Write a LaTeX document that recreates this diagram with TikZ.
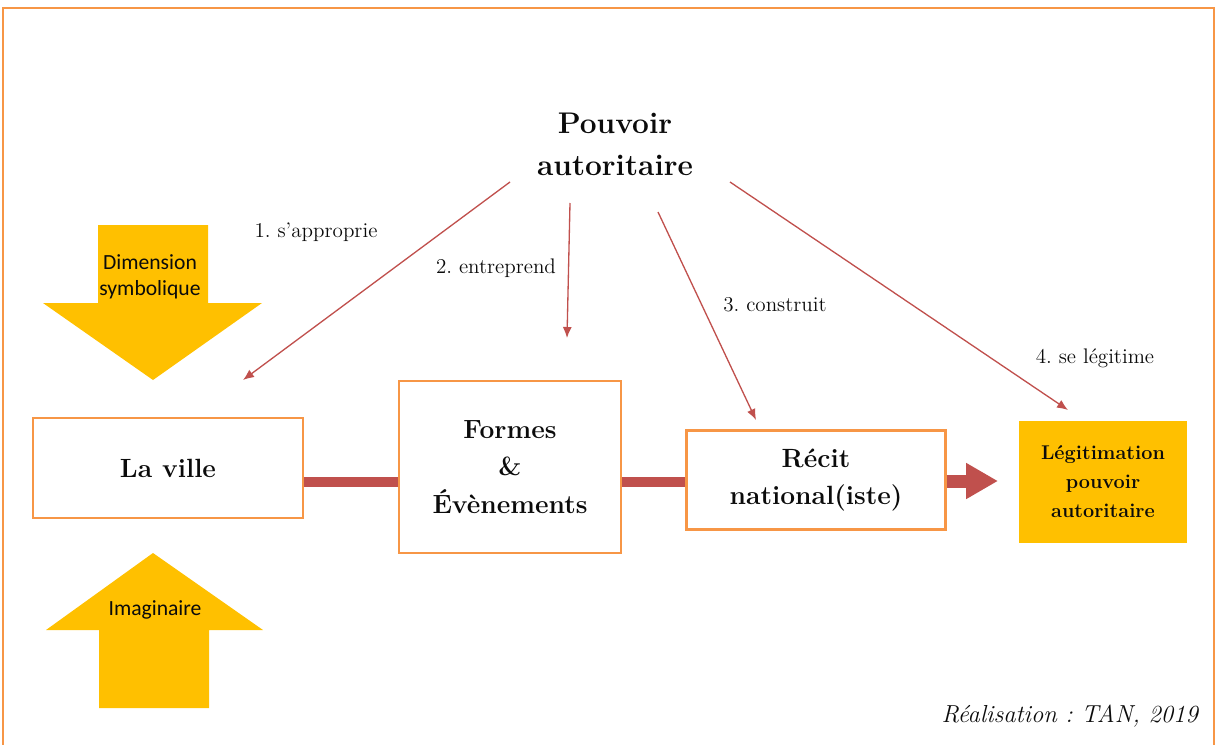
\documentclass[tikz,border=0pt]{standalone}
\usepackage{fontspec}
\newfontfamily\calibri{Carlito}
\usetikzlibrary{arrows.meta,positioning,calc}
\definecolor{frameorange}{HTML}{F79646}
\definecolor{gold}{HTML}{FFC000}
\definecolor{brick}{HTML}{C0504D}
\definecolor{ink}{HTML}{0B0B0B}
\frenchspacing
\tikzset{
  every node/.style={text=ink},
  box/.style={draw=frameorange, line width=1.3pt, fill=white, align=center,
    font=\bfseries\fontsize{15}{21.5}\selectfont},
  goal/.style={fill=gold, align=center, font=\bfseries\fontsize{11.3}{16.5}\selectfont},
  link/.style={-{Latex[length=0.22cm,width=0.18cm]}, draw=brick, line width=0.75pt},
  bar/.style={draw=brick, line width=0.2cm},
  verb/.style={font=\fontsize{12}{14}\selectfont},
  force/.style={fill=gold},
  forcetext/.style={font=\calibri\fontsize{12.3}{14.5}\selectfont, align=center},
}
\begin{document}
\begin{tikzpicture}[x=0.02cm, y=-0.02cm]
  \useasboundingbox (0,0) rectangle (1217,744);
  \draw[frameorange, line width=1.5pt] (3,760) -- (3,8) -- (1214,8) -- (1214,760);

  % power at the top
  \node[align=center, font=\bfseries\fontsize{17}{24}\selectfont] (pouvoir) at (615,144) {Pouvoir\\autoritaire};

  % chain of boxes
  \node[box, minimum width=5.4cm, minimum height=2.0cm] (ville) at (168,468) {La ville};
  \node[box, minimum width=4.44cm, minimum height=3.44cm] (formes) at (510,467) {Formes\\\&\\Évènements};
  \node[box, minimum width=5.18cm, minimum height=1.98cm] (recit) at (816,480) {Récit\\national(iste)};
  \node[goal, minimum width=3.36cm, minimum height=2.44cm] (legit) at (1103,482) {Légitimation\\pouvoir\\autoritaire};

  \coordinate (mid) at (0,482);
  \coordinate (tip) at (998,481);
  \draw[bar] (ville.east |- mid) -- (formes.west |- mid);
  \draw[bar] (formes.east |- mid) -- (recit.west |- mid);
  \draw[draw=brick, line width=0.26cm, -{Triangle[length=0.64cm,width=0.68cm]}] (recit.east |- tip) -- (tip);

  % what the power does
  \coordinate (s1) at (510,182);  \coordinate (e1) at (243,380);
  \coordinate (s2) at (570,203);  \coordinate (e2) at (567,338);
  \coordinate (s3) at (658,212);  \coordinate (e3) at (756,420);
  \coordinate (s4) at (730,182);  \coordinate (e4) at (1068,410);
  \draw[link] (s1) -- (e1);
  \draw[link] (s2) -- (e2);
  \draw[link] (s3) -- (e3);
  \draw[link] (s4) -- (e4);
  \node[verb] (v1) at (316,232) {1. s’approprie};
  \node[verb] (v2) at (496,268) {2. entreprend};
  \node[verb] (v3) at (775,305) {3. construit};
  \node[verb] (v4) at (1095,358) {4. se légitime};

  % symbolic dimension and imaginary
  \fill[force] (98,225) -- (208,225) -- (208,303) -- (262,303) -- (153,380) -- (43,303) -- (98,303) -- cycle;
  \node[forcetext] (symb) at (150,277) {Dimension\\symbolique};
  \fill[force] (99,708) -- (209,708) -- (209,630) -- (263,630) -- (153,553) -- (46,630) -- (99,630) -- cycle;
  \node[forcetext] (imag) at (155,610) {Imaginaire};

  \node[anchor=east, font=\itshape\fontsize{14}{16}\selectfont] (credit) at (1204,716) {Réalisation : TAN, 2019};
\end{tikzpicture}
\end{document}
